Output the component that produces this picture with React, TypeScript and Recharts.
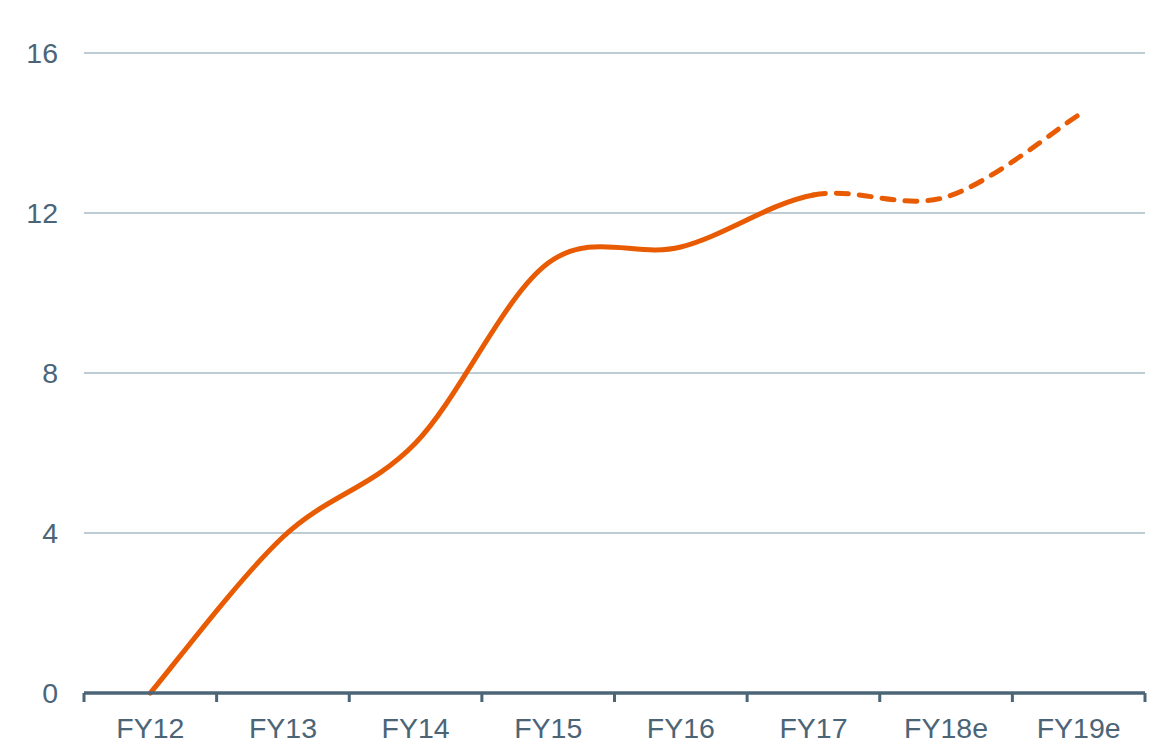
import React from "react";
import { LineChart, Line, XAxis, YAxis, CartesianGrid } from "recharts";

const categories = ["FY12", "FY13", "FY14", "FY15", "FY16", "FY17", "FY18e", "FY19e"];
const values = [0, 3.9, 6.25, 10.75, 11.15, 12.45, 12.4, 14.45];
const yTicks = [0, 4, 8, 12, 16];
// last reported year; everything after it is an estimate (dashed)
const lastActualIndex = 5;

const ORANGE = "#e85b02";
const SLATE = "#4b6577";
const GRID = "#a9bcc6";
const FONT = "'Liberation Sans', Arial, sans-serif";
const FONT_SIZE = 28.5;

// each series carries one extra neighbour point so the spline tangents match
// the whole curve; the curve factory drops that extra segment when drawing
const data = categories.map((year, i) => ({
  year,
  slot: i + 0.5,
  actual: i <= lastActualIndex + 1 ? values[i] : null,
  estimate: i >= lastActualIndex - 1 ? values[i] : null,
}));

const boundaries = categories.map((_, i) => i).concat(categories.length);

// Excel style smoothed line (catmull-rom as cubic beziers)
function smoothCurve(trimStart: boolean, trimEnd: boolean) {
  return (context: any) => {
    let pts: [number, number][] = [];
    return {
      areaStart() {},
      areaEnd() {},
      lineStart() {
        pts = [];
      },
      point(x: number, y: number) {
        pts.push([+x, +y]);
      },
      lineEnd() {
        const n = pts.length;
        if (!n) return;
        const p = (i: number) => pts[Math.max(0, Math.min(n - 1, i))];
        const first = trimStart ? 1 : 0;
        const last = trimEnd ? n - 2 : n - 1;
        if (last < first) return;
        context.moveTo(p(first)[0], p(first)[1]);
        for (let i = first; i < last; i++) {
          const p0 = p(i - 1);
          const p1 = p(i);
          const p2 = p(i + 1);
          const p3 = p(i + 2);
          context.bezierCurveTo(
            p1[0] + (p2[0] - p0[0]) / 6,
            p1[1] + (p2[1] - p0[1]) / 6,
            p2[0] - (p3[0] - p1[0]) / 6,
            p2[1] - (p3[1] - p1[1]) / 6,
            p2[0],
            p2[1]
          );
        }
      },
    };
  };
}

export default function App() {
  const tickStyle = { fill: SLATE, fontSize: FONT_SIZE, fontFamily: FONT };
  return (
    <div style={{ fontFamily: FONT }}>
      <LineChart
        width={1149}
        height={735}
        data={data}
        margin={{ top: 45, right: 12, left: 0, bottom: 0 }}
      >
        <CartesianGrid vertical={false} stroke={GRID} strokeWidth={1.4} xAxisId="a_frame" />
        {/* band boundaries: axis line plus tick marks between categories */}
        <XAxis
          xAxisId="a_frame"
          dataKey="slot"
          type="number"
          domain={[0, categories.length]}
          allowDataOverflow
          ticks={boundaries}
          interval={0}
          height={1}
          tick={() => <g />}
          tickSize={9}
          axisLine={{ stroke: SLATE, strokeWidth: 3.5 }}
          tickLine={{ stroke: SLATE, strokeWidth: 3 }}
        />
        <XAxis
          xAxisId="b_labels"
          dataKey="year"
          scale="band"
          interval={0}
          height={49}
          axisLine={false}
          tickLine={false}
          tickSize={0}
          tickMargin={24}
          fontSize={FONT_SIZE}
          tick={tickStyle}
        />
        <YAxis
          domain={[0, 16]}
          ticks={yTicks}
          width={76}
          axisLine={false}
          tickLine={false}
          tickSize={0}
          tickMargin={26}
          fontSize={FONT_SIZE}
          tick={tickStyle}
        />
        <Line
          xAxisId="b_labels"
          dataKey="actual"
          type={smoothCurve(false, true) as any}
          stroke={ORANGE}
          strokeWidth={5}
          strokeLinecap="round"
          dot={false}
          activeDot={false}
          isAnimationActive={false}
        />
        <Line
          xAxisId="b_labels"
          dataKey="estimate"
          type={smoothCurve(true, false) as any}
          stroke={ORANGE}
          strokeWidth={5}
          strokeLinecap="round"
          strokeDasharray="12 11"
          dot={false}
          activeDot={false}
          isAnimationActive={false}
        />
      </LineChart>
    </div>
  );
}
